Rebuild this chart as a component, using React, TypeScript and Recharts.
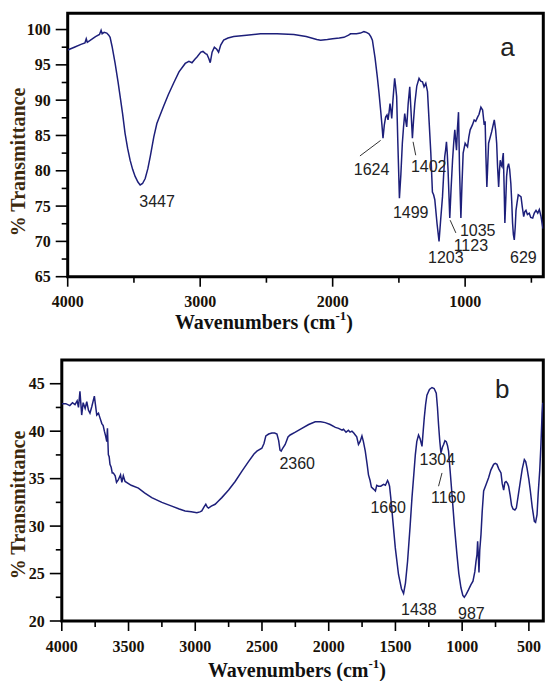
import React from 'react';
import {
  LineChart,
  Line,
  XAxis,
  YAxis,
  ReferenceArea,
  ReferenceDot,
  ReferenceLine,
} from 'recharts';

// spectrum (a)
const wnA = [
  4000, 3950, 3900, 3870, 3860, 3852, 3820, 3790, 3760, 3748, 3740, 3725, 3705, 3690, 3680, 3665,
  3642, 3620, 3604, 3585, 3567, 3548, 3529, 3510, 3491, 3470, 3453, 3435, 3415, 3395, 3377, 3350,
  3327, 3300, 3277, 3240, 3201, 3160, 3113, 3085, 3062, 3040, 3024, 2995, 2979, 2960, 2949, 2935,
  2924, 2910, 2893, 2875, 2861, 2845, 2823, 2790, 2747, 2650, 2545, 2420, 2293, 2200, 2120, 2091,
  2040, 2000, 1950, 1915, 1880, 1865, 1820, 1790, 1764, 1745, 1726, 1712, 1700, 1680, 1663, 1650,
  1638, 1628, 1620, 1610, 1600, 1590, 1582, 1574, 1567, 1560, 1554, 1545, 1532, 1525, 1517, 1508,
  1496, 1485, 1474, 1465, 1456, 1448, 1441, 1430, 1418, 1410, 1398, 1390, 1380, 1365, 1348, 1335,
  1322, 1310, 1297, 1284, 1272, 1259, 1247, 1238, 1229, 1212, 1197, 1185, 1171, 1162, 1154, 1147,
  1141, 1135, 1129, 1116, 1106, 1095, 1086, 1078, 1070, 1065, 1058, 1050, 1042, 1032, 1024, 1015,
  1000, 990, 982, 972, 962, 945, 932, 920, 906, 895, 881, 868, 856, 849, 843, 836,
  830, 823, 800, 780, 770, 762, 755, 747, 741, 735, 728, 722, 717, 712, 706, 700,
  693, 687, 680, 672, 664, 655, 648, 642, 636, 629, 622, 616, 608, 599, 590, 578,
  568, 558, 550, 541, 530, 516, 505, 490, 478, 465, 452, 440, 428, 415, 410,
];
const tA = [
  97.1, 97.5, 97.9, 98.1, 98.7, 98.2, 98.6, 99.0, 99.3, 99.9, 99.4, 99.6, 99.5, 99.2, 98.9, 97.6,
  95.2, 92.6, 90.5, 88.0, 85.3, 83.2, 81.5, 80.2, 79.2, 78.4, 78.0, 78.2, 78.9, 80.3, 82.0, 84.8,
  86.7, 88.0, 89.1, 90.8, 92.4, 94.0, 95.2, 95.5, 95.3, 95.8, 96.1, 96.8, 96.9, 96.6, 96.5, 95.9,
  95.3, 96.8, 97.5, 97.2, 96.8, 97.8, 98.5, 98.8, 99.0, 99.2, 99.4, 99.4, 99.3, 99.0, 98.6, 98.5,
  98.6, 98.7, 98.8, 98.9, 99.2, 99.4, 99.4, 99.5, 99.7, 99.6, 99.4, 99.0, 98.5, 96.0, 93.3, 91.0,
  88.6, 86.5, 84.6, 86.5, 87.6, 87.9, 87.2, 88.3, 89.5, 88.5, 87.4, 90.0, 93.1, 92.0, 90.5, 84.0,
  76.1, 79.5, 83.9, 86.2, 88.1, 87.0, 86.2, 89.5, 91.9, 89.0, 84.6, 87.0, 89.5, 92.0, 93.1, 92.7,
  92.6, 91.9, 92.4, 91.2, 87.0, 82.5, 77.0, 76.6, 75.9, 72.5, 70.0, 73.0, 76.3, 79.5, 82.0, 83.0,
  84.1, 82.5, 80.1, 73.3, 77.5, 81.5, 84.0, 85.8, 84.0, 82.9, 86.0, 88.3, 80.0, 73.3, 78.0, 82.5,
  83.9, 83.6, 83.4, 84.8, 85.8, 86.5, 87.2, 87.0, 87.6, 88.0, 89.0, 88.6, 86.5, 87.0, 82.0, 77.7,
  80.5, 83.9, 85.5, 87.2, 85.8, 83.9, 80.5, 77.7, 80.0, 81.5, 80.8, 80.6, 81.8, 82.5, 78.0, 72.6,
  76.0, 79.2, 80.5, 81.0, 80.2, 78.2, 75.5, 72.6, 71.0, 70.2, 72.0, 74.4, 75.5, 76.6, 76.5, 76.3,
  74.8, 73.5, 74.2, 74.4, 73.8, 74.0, 73.4, 73.3, 74.0, 74.4, 74.0, 74.5, 73.6, 72.1, 71.8,
];

// spectrum (b)
const wnB = [
  4000, 3970, 3940, 3920, 3901, 3885, 3875, 3864, 3851, 3840, 3825, 3813, 3800, 3789, 3775, 3756,
  3748, 3738, 3725, 3714, 3700, 3690, 3681, 3672, 3663, 3658, 3651, 3645, 3639, 3630, 3622, 3614,
  3600, 3590, 3576, 3560, 3550, 3539, 3526, 3480, 3426, 3380, 3326, 3250, 3176, 3120, 3076, 3030,
  2988, 2965, 2951, 2935, 2921, 2910, 2901, 2880, 2851, 2830, 2801, 2750, 2701, 2650, 2601, 2560,
  2538, 2501, 2485, 2471, 2450, 2426, 2405, 2388, 2375, 2365, 2356, 2345, 2326, 2305, 2289, 2250,
  2201, 2150, 2101, 2060, 2026, 1989, 1950, 1926, 1900, 1889, 1870, 1852, 1840, 1826, 1812, 1801,
  1790, 1777, 1765, 1751, 1740, 1726, 1712, 1702, 1690, 1680, 1664, 1650, 1640, 1627, 1610, 1589,
  1575, 1559, 1552, 1544, 1535, 1526, 1501, 1477, 1455, 1439, 1425, 1409, 1390, 1376, 1362, 1351,
  1340, 1327, 1315, 1301, 1292, 1284, 1274, 1264, 1245, 1226, 1210, 1194, 1185, 1177, 1168, 1159,
  1148, 1139, 1129, 1119, 1110, 1102, 1090, 1076, 1058, 1039, 1025, 1009, 995, 984, 970, 952,
  935, 919, 905, 896, 889, 884, 879, 874, 868, 859, 850, 839, 820, 802, 785, 764,
  752, 739, 725, 709, 700, 689, 680, 671, 660, 652, 640, 630, 619, 605, 594, 580,
  564, 550, 534, 524, 514, 500, 489, 475, 459, 450, 439, 430, 419, 410, 401, 396,
];
const tB = [
  42.9, 42.9, 42.7, 43.0, 42.8, 43.2, 42.5, 44.2, 41.7, 43.0, 42.4, 43.1, 42.2, 41.9, 42.6, 43.7,
  42.8, 41.7, 41.9, 41.4, 40.8, 40.6, 40.0, 39.5, 38.9, 40.3, 37.5, 37.3, 36.5, 36.2, 35.6, 35.6,
  35.3, 34.6, 34.9, 35.4, 34.6, 35.3, 34.7, 34.3, 34.0, 33.5, 33.0, 32.5, 32.1, 31.8, 31.6, 31.5,
  31.4, 31.5, 31.6, 32.0, 32.3, 32.0, 31.9, 32.1, 32.3, 32.6, 33.0, 33.8, 34.7, 35.8, 36.8, 37.6,
  37.9, 38.2, 38.7, 39.5, 39.7, 39.8, 39.8, 39.7, 39.0, 38.0, 37.9, 38.2, 38.6, 39.4, 39.6, 39.9,
  40.3, 40.7, 41.0, 41.0, 40.9, 40.7, 40.4, 40.3, 40.1, 40.2, 39.9, 40.1, 39.9, 40.0, 39.8, 39.6,
  39.4, 38.6, 38.9, 39.5, 38.9, 37.9, 36.5, 35.4, 34.8, 34.1, 33.9, 33.7, 34.3, 34.2, 34.2, 34.4,
  34.3, 34.8, 34.6, 34.2, 33.0, 31.6, 27.7, 24.9, 23.4, 22.9, 24.0, 26.3, 30.0, 33.0, 35.5, 37.5,
  38.9, 39.6, 39.2, 38.4, 40.0, 41.4, 42.8, 43.8, 44.4, 44.6, 44.5, 44.0, 42.5, 40.7, 39.0, 37.7,
  38.3, 38.6, 39.0, 38.9, 38.5, 37.9, 35.8, 33.3, 30.0, 27.0, 25.0, 23.5, 22.7, 22.5, 22.8, 23.3,
  23.8, 24.2, 25.2, 26.3, 27.0, 28.4, 27.0, 25.1, 27.5, 29.1, 31.5, 33.7, 34.4, 35.1, 35.9, 36.5,
  36.6, 36.5, 36.0, 35.6, 34.5, 33.8, 34.6, 34.7, 34.5, 34.2, 33.2, 32.2, 31.8, 31.7, 31.9, 33.2,
  34.7, 36.0, 37.0, 36.8, 36.1, 34.9, 33.7, 32.0, 30.5, 30.4, 31.2, 33.5, 35.8, 38.5, 41.9, 43.0,
];

const ticksXA = [4000, 3500, 3000, 2500, 2000, 1500, 1000, 500];
const ticksXB = [
  4000, 3750, 3500, 3250, 3000, 2750, 2500, 2250, 2000, 1750, 1500, 1250, 1000, 750, 500,
];
const ticksYA = [65, 67.5, 70, 72.5, 75, 77.5, 80, 82.5, 85, 87.5, 90, 92.5, 95, 97.5, 100];
const ticksYB = [20, 22.5, 25, 27.5, 30, 32.5, 35, 37.5, 40, 42.5, 45];

// peak labels: [text, wavenumber, %T]
const peaksA: [string, number, number][] = [
  ['3447', 3325, 75.7],
  ['1624', 1706, 80.2],
  ['1499', 1411, 74.1],
  ['1402', 1275, 80.7],
  ['1203', 1146, 67.7],
  ['1123', 957, 69.5],
  ['1035', 905, 71.6],
  ['629', 560, 67.7],
];
const leadersA: [number, number, number, number][] = [
  [1794, 82.1, 1638, 84.3],
  [1373, 82.2, 1393, 84.1],
  [1070, 71.2, 1113, 73.0],
];
const peaksB: [string, number, number][] = [
  ['2360', 2236, 36.6],
  ['1660', 1554, 32.0],
  ['1438', 1325, 21.2],
  ['987', 931, 20.8],
  ['1304', 1186, 37.0],
  ['1160', 1104, 33.0],
];
const leadersB: [number, number, number, number][] = [[1177, 34.2, 1151, 35.6]];

const dataA = wnA.map((wn, i) => ({ wn, t: tA[i] }));
const dataB = wnB.map((wn, i) => ({ wn, t: tB[i] }));

const SERIF = '"Liberation Serif", "Times New Roman", serif';
const SANS = '"Liberation Sans", Arial, sans-serif';
const LINE = '#1d1f7a';

const YTick = (props: any) => {
  const { x, y, payload } = props;
  const major = payload.value % 5 === 0;
  return (
    <g>
      <line x1={x - (major ? 12 : 6)} x2={x} y1={y} y2={y} stroke="#000" strokeWidth={1.6} />
      {major && (
        <text x={x - 17} y={y} textAnchor="end" dominantBaseline="central"
          fontFamily={SERIF} fontWeight="bold" fontSize={16} fill="#1a1208">
          {payload.value}
        </text>
      )}
    </g>
  );
};

const makeXTick = (step: number) => (props: any) => {
  const { x, y, payload } = props;
  const major = payload.value % step === 0;
  return (
    <g>
      <line x1={x} x2={x} y1={y} y2={y + (major ? 10 : 6)} stroke="#000" strokeWidth={1.6} />
      {major && (
        <text x={x} y={y + 25} textAnchor="middle" dominantBaseline="central"
          fontFamily={SERIF} fontWeight="bold" fontSize={16} fill="#1a1208">
          {payload.value}
        </text>
      )}
    </g>
  );
};

const YTitle = ({ cx, cy }: { cx: number; cy: number }) => (
  <text x={cx} y={cy} transform={`rotate(-90 ${cx} ${cy})`} textAnchor="middle"
    dominantBaseline="central" fontFamily={SERIF} fontWeight="bold" fontSize={20} fill="#3d2a0e">
    % Transmittance
  </text>
);

const XTitle = ({ cx, cy }: { cx: number; cy: number }) => (
  <text x={cx} y={cy} textAnchor="middle" dominantBaseline="central"
    fontFamily={SERIF} fontWeight="bold" fontSize={20} fill="#111">
    <tspan>Wavenumbers (cm</tspan>
    <tspan dy={-7} fontSize={13}>-1</tspan>
    <tspan dy={7}>)</tspan>
  </text>
);

const labelStyle = { position: 'center' as const, fontSize: 16, fill: '#222', fontFamily: SANS };

export default function App() {
  return (
    <div style={{ position: 'absolute', left: 0, top: 0, width: 545, height: 681, background: '#fff' }}>
      <div style={{ position: 'absolute', left: 0, top: 0 }}>
        <LineChart width={545} height={340} data={dataA}
          margin={{ top: 13.3, right: 1.7, left: 0, bottom: 0 }}>
          <XAxis dataKey="wn" type="number" domain={[410, 4000]} reversed allowDataOverflow
            ticks={ticksXA} interval={0} tickSize={0} tickMargin={0} axisLine={false}
            tick={makeXTick(1000)} height={63.3}
            label={<XTitle cx={264} cy={322} />} />
          <YAxis type="number" domain={[65, 102.3]} allowDataOverflow ticks={ticksYA} interval={0}
            tickSize={0} tickMargin={0} axisLine={false} tick={YTick} width={67.7}
            label={<YTitle cx={18} cy={162} />} />
          <Line dataKey="t" stroke={LINE} strokeWidth={1.5} dot={false} isAnimationActive={false} />
          {leadersA.map(([x1, y1, x2, y2], i) => (
            <ReferenceLine key={'la' + i} segment={[{ x: x1, y: y1 }, { x: x2, y: y2 }]}
              stroke="#333" strokeWidth={1} ifOverflow="visible" />
          ))}
          {peaksA.map(([txt, x, y]) => (
            <ReferenceDot key={txt} x={x} y={y} r={1} fill="none" stroke="none" ifOverflow="visible"
              label={{ value: txt, ...labelStyle }} />
          ))}
          <ReferenceDot x={681} y={97.6} r={1} fill="none" stroke="none" ifOverflow="visible"
            label={{ value: 'a', ...labelStyle, fontSize: 26 }} />
          <ReferenceArea x1={4000} x2={410} y1={65} y2={102.3} fill="none" stroke="#000"
            strokeWidth={3} ifOverflow="visible" />
        </LineChart>
      </div>
      <div style={{ position: 'absolute', left: 0, top: 340 }}>
        <LineChart width={545} height={341} data={dataB}
          margin={{ top: 20, right: 1.7, left: 0, bottom: 0 }}>
          <XAxis dataKey="wn" type="number" domain={[392, 4000]} reversed allowDataOverflow
            ticks={ticksXB} interval={0} tickSize={0} tickMargin={0} axisLine={false}
            tick={makeXTick(500)} height={60}
            label={<XTitle cx={297} cy={330} />} />
          <YAxis type="number" domain={[20, 47.5]} allowDataOverflow ticks={ticksYB} interval={0}
            tickSize={0} tickMargin={0} axisLine={false} tick={YTick} width={61.8}
            label={<YTitle cx={18} cy={165} />} />
          <Line dataKey="t" stroke={LINE} strokeWidth={1.5} dot={false} isAnimationActive={false} />
          {leadersB.map(([x1, y1, x2, y2], i) => (
            <ReferenceLine key={'lb' + i} segment={[{ x: x1, y: y1 }, { x: x2, y: y2 }]}
              stroke="#333" strokeWidth={1} ifOverflow="visible" />
          ))}
          {peaksB.map(([txt, x, y]) => (
            <ReferenceDot key={txt} x={x} y={y} r={1} fill="none" stroke="none" ifOverflow="visible"
              label={{ value: txt, ...labelStyle }} />
          ))}
          <ReferenceDot x={699} y={44.5} r={1} fill="none" stroke="none" ifOverflow="visible"
            label={{ value: 'b', ...labelStyle, fontSize: 26 }} />
          <ReferenceArea x1={4000} x2={392} y1={20} y2={47.5} fill="none" stroke="#000"
            strokeWidth={3} ifOverflow="visible" />
        </LineChart>
      </div>
    </div>
  );
}
